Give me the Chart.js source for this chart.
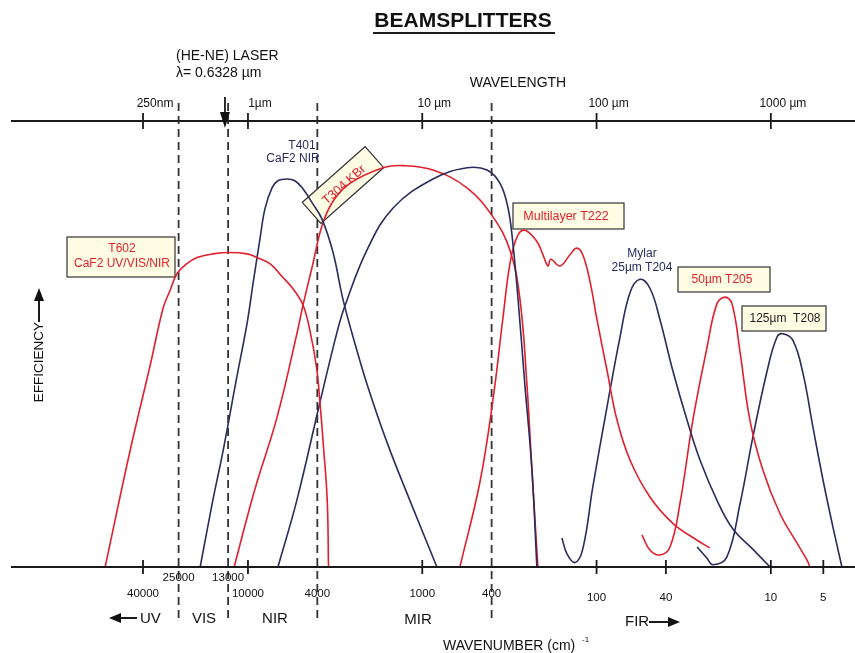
<!DOCTYPE html>
<html>
<head>
<meta charset="utf-8">
<script src="https://cdn.jsdelivr.net/npm/chart.js@4.4.1/dist/chart.umd.min.js"></script>
<style>
body { margin: 0; background: #fff; }
canvas { display: block; }
</style>
</head>
<body>
<canvas id="grafico" width="855" height="653"></canvas>
<script>
// ---- dati: numero d'onda (cm-1) / efficienza (0..1) ----
var t602Wn  = [66000, 47500, 36500, 30700, 28000, 25500, 22400, 19600, 15900, 12700, 10100, 8900, 7480, 6300, 5520, 4830, 4410, 4040, 3860, 3700, 3510, 3450];
var t602Eff = [0, 0.26, 0.45, 0.58, 0.62, 0.658, 0.68, 0.694, 0.702, 0.705, 0.702, 0.694, 0.68, 0.649, 0.624, 0.587, 0.53, 0.447, 0.367, 0.277, 0.15, 0];

var t401Wn  = [18800, 15900, 13900, 11600, 10100, 9360, 8530, 7990, 7280, 6730, 5970, 5380, 4840, 4290, 3760, 3250, 2850, 2430, 2075, 1595, 1180, 824];
var t401Eff = [0, 0.15, 0.26, 0.425, 0.548, 0.635, 0.736, 0.803, 0.85, 0.866, 0.87, 0.866, 0.848, 0.817, 0.78, 0.705, 0.60, 0.50, 0.41, 0.28, 0.15, 0];

var t304Wn  = [12000, 10100, 8880, 6820, 5240, 4840, 4240, 3760, 3250, 2600, 1680, 1290, 868, 554, 393, 314, 275, 251, 235, 217];
var t304Eff = [0, 0.112, 0.19, 0.335, 0.523, 0.586, 0.68, 0.765, 0.82, 0.86, 0.895, 0.90, 0.89, 0.85, 0.785, 0.71, 0.60, 0.41, 0.22, 0];

var kbrWn   = [6730, 5240, 3860, 3090, 2780, 2080, 1470, 868, 554, 425, 358, 322, 302, 282, 258, 235, 220];
var kbrEff  = [0, 0.15, 0.37, 0.525, 0.585, 0.71, 0.805, 0.87, 0.895, 0.89, 0.86, 0.805, 0.725, 0.60, 0.41, 0.22, 0];

var t222Wn  = [608, 467, 393, 344, 314, 286, 258, 220, 203, 190, 183, 162, 142, 130, 120, 109, 99.5, 87, 76.4, 64.3, 49.4, 36.5, 26.5, 22.4];
var t222Eff = [0, 0.19, 0.375, 0.56, 0.68, 0.74, 0.755, 0.73, 0.70, 0.675, 0.69, 0.675, 0.70, 0.715, 0.70, 0.64, 0.555, 0.44, 0.33, 0.24, 0.157, 0.098, 0.06, 0.043];

var t204Wn  = [158, 148, 133, 120, 105, 87, 73.4, 64.3, 56.4, 49.4, 43.3, 36.5, 30.3, 25.5, 20.4, 16.5, 12.7, 10.1];
var t204Eff = [0.065, 0.03, 0.01, 0.04, 0.18, 0.36, 0.515, 0.615, 0.645, 0.625, 0.555, 0.44, 0.33, 0.24, 0.15, 0.085, 0.04, 0];

var t205Wn  = [54.9, 49.4, 43.3, 37.9, 33.2, 28.0, 23.3, 20.4, 18.3, 16.7, 15.0, 13.2, 11.1, 8.87, 7.09, 6.21, 5.97];
var t205Eff = [0.072, 0.038, 0.027, 0.045, 0.143, 0.33, 0.49, 0.59, 0.605, 0.59, 0.48, 0.33, 0.217, 0.12, 0.054, 0.016, 0];

var t208Wn  = [26.5, 23.3, 21.5, 17.9, 15.0, 12.7, 10.5, 9.23, 8.52, 7.47, 6.54, 5.73, 5.02, 4.40, 3.91];
var t208Eff = [0.045, 0.02, 0.005, 0.022, 0.143, 0.29, 0.44, 0.515, 0.523, 0.508, 0.434, 0.313, 0.195, 0.089, 0];

// assi
var bottomTickWn = [40000, 10000, 1000, 100, 40, 10, 5];
var bottomTickLabels = ['40000', '10000', '1000', '100', '40', '10', '5'];
var dividerWn = [25000, 13000, 4000, 400];
var dividerLabels = ['25000', '13000', '4000', '400'];
var topTickWn = [40000, 10000, 1000, 100, 10];
var topTickLabels = ['250nm', '1\u00b5m', '10 \u00b5m', '100 \u00b5m', '1000 \u00b5m'];
var laserWn = 13550; // posizione della freccia nel disegno

var ROSSO = '#e0202c';
var BLU = '#2a2c5e';
var FONT = '"Liberation Sans", Arial, sans-serif';

function serie(wn, eff, colore) {
    var punti = [];
    for (var i = 0; i < wn.length; i++) {
        punti.push({ x: wn[i], y: eff[i] });
    }
    return {
        data: punti,
        borderColor: colore,
        borderWidth: 1.6,
        pointRadius: 0,
        fill: false,
        tension: 0.4,
        clip: false
    };
}

function scatola(ctx, x, y, w, h) {
    ctx.fillStyle = '#fffce4';
    ctx.fillRect(x, y, w, h);
    ctx.strokeStyle = '#333';
    ctx.lineWidth = 1.2;
    ctx.strokeRect(x, y, w, h);
}

function testo(ctx, t, x, y, size, colore, align, bold) {
    ctx.font = (bold ? 'bold ' : '') + size + 'px ' + FONT;
    ctx.fillStyle = colore;
    ctx.textAlign = align || 'center';
    ctx.textBaseline = 'middle';
    ctx.fillText(t, x, y);
}

var decorazioni = {
    id: 'decorazioni',
    beforeDatasetsDraw: function(chart) {
        var ctx = chart.ctx;
        var xs = chart.scales.x;
        ctx.save();
        // linee tratteggiate delle regioni
        ctx.strokeStyle = '#333';
        ctx.lineWidth = 1.8;
        ctx.setLineDash([8, 5]);
        dividerWn.forEach(function(v) {
            var x = xs.getPixelForValue(v);
            ctx.beginPath();
            ctx.moveTo(x, 103);
            ctx.lineTo(x, 622);
            ctx.stroke();
        });
        ctx.setLineDash([]);

        // riquadri delle etichette
        scatola(ctx, 67, 237, 108, 40);
        scatola(ctx, 513, 203, 111, 26);
        scatola(ctx, 678, 267, 92, 25);
        scatola(ctx, 742, 306, 84, 25);
        ctx.save();
        ctx.translate(343, 185);
        ctx.rotate(-41.6 * Math.PI / 180);
        scatola(ctx, -42, -14, 84, 28);
        ctx.restore();
        ctx.restore();
    },
    afterDatasetsDraw: function(chart) {
        var ctx = chart.ctx;
        var xs = chart.scales.x;
        var area = chart.chartArea;
        ctx.save();

        // assi orizzontali
        ctx.strokeStyle = '#1a1a1a';
        ctx.lineWidth = 1.8;
        ctx.beginPath();
        ctx.moveTo(11, area.top);
        ctx.lineTo(855, area.top);
        ctx.moveTo(11, area.bottom);
        ctx.lineTo(855, area.bottom);
        ctx.stroke();

        // tacche in basso
        bottomTickWn.forEach(function(v, i) {
            var x = xs.getPixelForValue(v);
            ctx.beginPath();
            ctx.moveTo(x, area.bottom - 7);
            ctx.lineTo(x, area.bottom + 7);
            ctx.stroke();
            testo(ctx, bottomTickLabels[i], x, v > 100 ? 594 : 598, 11.5, '#111');
        });
        dividerWn.forEach(function(v, i) {
            var x = xs.getPixelForValue(v);
            testo(ctx, dividerLabels[i], x, v > 5000 ? 578 : 594, 11.5, '#111');
        });

        // tacche in alto (lunghezza d'onda)
        topTickWn.forEach(function(v, i) {
            var x = xs.getPixelForValue(v);
            ctx.beginPath();
            ctx.moveTo(x, area.top - 8);
            ctx.lineTo(x, area.top + 8);
            ctx.stroke();
            testo(ctx, topTickLabels[i], x + 12, 104, 12, '#111');
        });

        // freccia laser
        var xl = xs.getPixelForValue(laserWn);
        ctx.beginPath();
        ctx.moveTo(xl, 97);
        ctx.lineTo(xl, 114);
        ctx.stroke();
        ctx.fillStyle = '#111';
        ctx.beginPath();
        ctx.moveTo(xl - 5, 112);
        ctx.lineTo(xl + 5, 112);
        ctx.lineTo(xl, 128);
        ctx.closePath();
        ctx.fill();

        // titolo
        testo(ctx, 'BEAMSPLITTERS', 463, 21, 21, '#111', 'center', true);
        ctx.lineWidth = 2;
        ctx.beginPath();
        ctx.moveTo(373, 33);
        ctx.lineTo(555, 33);
        ctx.stroke();

        testo(ctx, '(HE-NE) LASER', 176, 56, 14, '#111', 'left');
        testo(ctx, '\u03bb= 0.6328 \u00b5m', 176, 73, 14, '#111', 'left');
        testo(ctx, 'WAVELENGTH', 518, 83, 14, '#111');

        // regioni
        testo(ctx, 'UV', 140, 619, 15, '#111', 'left');
        testo(ctx, 'VIS', 204, 619, 15, '#111');
        testo(ctx, 'NIR', 275, 619, 15, '#111');
        testo(ctx, 'MIR', 418, 620, 15, '#111');
        testo(ctx, 'FIR', 625, 622, 15, '#111', 'left');
        ctx.lineWidth = 2;
        ctx.beginPath();
        ctx.moveTo(118, 618); ctx.lineTo(137, 618);
        ctx.moveTo(649, 622); ctx.lineTo(668, 622);
        ctx.stroke();
        ctx.beginPath();
        ctx.moveTo(109, 618); ctx.lineTo(121, 613); ctx.lineTo(121, 623); ctx.closePath();
        ctx.moveTo(680, 622); ctx.lineTo(668, 617); ctx.lineTo(668, 627); ctx.closePath();
        ctx.fill();

        testo(ctx, 'WAVENUMBER (cm)', 443, 646, 14, '#111', 'left');
        testo(ctx, '-1', 582, 640, 8, '#111', 'left');

        // asse efficienza
        ctx.save();
        ctx.translate(39, 362);
        ctx.rotate(-Math.PI / 2);
        testo(ctx, 'EFFICIENCY', 0, 0, 13.5, '#111');
        ctx.restore();
        ctx.lineWidth = 2;
        ctx.beginPath();
        ctx.moveTo(39, 322); ctx.lineTo(39, 298);
        ctx.stroke();
        ctx.beginPath();
        ctx.moveTo(39, 288); ctx.lineTo(34, 301); ctx.lineTo(44, 301); ctx.closePath();
        ctx.fill();

        // etichette delle curve
        testo(ctx, 'T602', 122, 249, 12, ROSSO);
        testo(ctx, 'CaF2 UV/VIS/NIR', 122, 264, 12, ROSSO);
        testo(ctx, 'T401', 302, 146, 12, BLU);
        testo(ctx, 'CaF2 NIR', 293, 159, 12, BLU);
        testo(ctx, 'Multilayer T222', 566, 217, 12.5, ROSSO);
        testo(ctx, 'Mylar', 642, 254, 12, BLU);
        testo(ctx, '25\u00b5m T204', 642, 268, 12, BLU);
        testo(ctx, '50\u00b5m T205', 722, 280, 12, ROSSO);
        testo(ctx, '125\u00b5m  T208', 785, 319, 12, '#222');
        ctx.save();
        ctx.translate(344, 185);
        ctx.rotate(-41.6 * Math.PI / 180);
        testo(ctx, 'T304 KBr', 0, 0, 12.5, ROSSO);
        ctx.restore();

        ctx.restore();
    }
};

var ctx = document.getElementById('grafico');
var chart = new Chart(ctx, {
    type: 'line',
    data: {
        datasets: [
            serie(t602Wn, t602Eff, ROSSO),
            serie(t401Wn, t401Eff, BLU),
            serie(kbrWn, kbrEff, BLU),
            serie(t304Wn, t304Eff, ROSSO),
            serie(t222Wn, t222Eff, ROSSO),
            serie(t204Wn, t204Eff, BLU),
            serie(t205Wn, t205Eff, ROSSO),
            serie(t208Wn, t208Eff, BLU)
        ]
    },
    options: {
        responsive: false,
        animation: false,
        layout: { padding: { left: 10, right: 0, top: 121, bottom: 86 } },
        scales: {
            x: { type: 'logarithmic', min: 3.29, max: 231900, reverse: true, display: false },
            y: { type: 'linear', min: 0, max: 1, display: false }
        },
        plugins: {
            legend: { display: false },
            tooltip: { enabled: false }
        }
    },
    plugins: [decorazioni]
});
</script>
</body>
</html>
